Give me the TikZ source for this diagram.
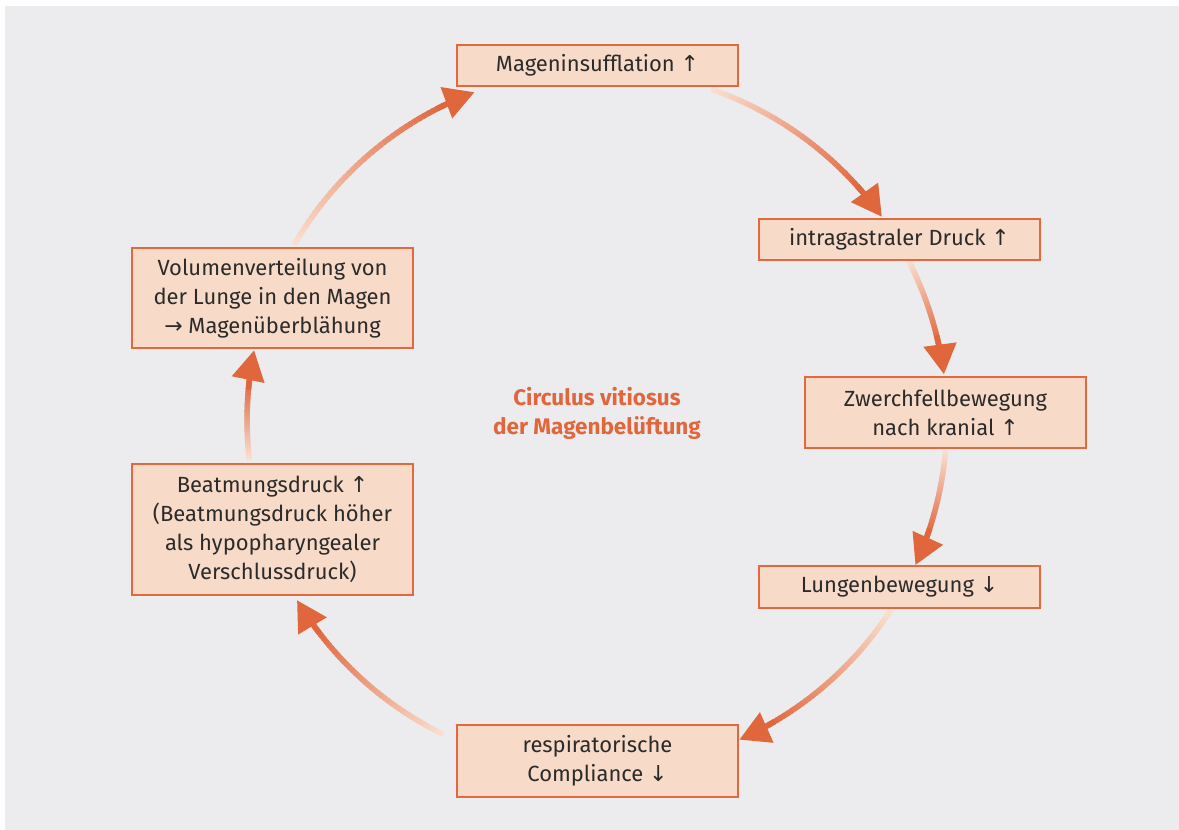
\documentclass[tikz,border=0pt]{standalone}
\usepackage{fontspec}
\setmainfont{Fira Sans}
\newfontfamily\arrowfont{DejaVu Sans}
\usetikzlibrary{arrows.meta}

\definecolor{panel}{HTML}{ECECEE}
\definecolor{boxfill}{HTML}{F8DAC8}
\definecolor{boxline}{HTML}{E2683E}
\definecolor{arrowend}{HTML}{E0663C}
\definecolor{arrowstart}{HTML}{FAE2D4}
\definecolor{txt}{HTML}{2B2B2B}

\newcommand{\arrup}{{\arrowfont\symbol{"2191}}}
\newcommand{\arrdown}{{\arrowfont\symbol{"2193}}}
\newcommand{\arrright}{{\arrowfont\symbol{"2192}}}

% arc around (c) from #1 to #2 (degrees), light -> orange, with head
\newcommand{\gradarc}[2]{%
  \pgfmathsetmacro{\gend}{#2-5*sign(#2-#1)}
  \pgfmathsetmacro{\ghs}{\gend-1.5*sign(#2-#1)}
  \foreach \i in {1,...,40}{
    \pgfmathsetmacro{\ga}{#1+(\gend-#1)*(\i-1)/40}
    \pgfmathsetmacro{\gb}{#1+(\gend-#1)*(\i+0.4)/40}
    \pgfmathsetmacro{\gpct}{100*\i/40}
    \draw[flow, draw=arrowend!\gpct!arrowstart] (c) ++(\ga:7cm) arc[start angle=\ga, end angle=\gb, radius=7cm];
  }
  \draw[flow, draw=arrowend, -{Triangle[length=0.6cm,width=0.64cm]}] (c) ++(\ghs:7cm) arc[start angle=\ghs, end angle=#2, radius=7cm];
}

\begin{document}
\begin{tikzpicture}[x=0.02cm, y=0.02cm]
        \tikzstyle{box}=[draw=boxline, fill=boxfill, line width=0.8pt, text=txt, align=center,
            minimum width=5.62cm, inner sep=0pt, font=\fontsize{12.5}{16.5}\selectfont]
        \tikzstyle{flow}=[line width=0.11cm]
        \tikzstyle{title}=[text=arrowend, align=center, font=\fontsize{12.8}{16.5}\selectfont\bfseries]
        \useasboundingbox (0,0) rectangle (1179,-830);
        \fill[panel] (5,-6) rectangle (1179,-830);
        \coordinate (c) at (597,-420);

        % arrows first, boxes on top
        \gradarc{71}{35.5}
        \gradarc{27}{7.5}
        \gradarc{-5}{-24.5}
        \gradarc{-33}{-66}
        \gradarc{244}{211}
        \gradarc{186.5}{168.5}
        \gradarc{150}{110.5}

        \node[box, minimum height=0.82cm] (insuff) at (597.5,-65.5) {Mageninsufflation \arrup};
        \node[box, minimum height=0.82cm] (druck) at (899.5,-239.5) {intragastraler Druck \arrup};
        \node[box, minimum height=1.42cm] (zwerch) at (945.5,-412.5) {Zwerchfellbewegung\\nach kranial \arrup};
        \node[box, minimum height=0.84cm] (lunge) at (899.5,-587) {Lungenbewegung \arrdown};
        \node[box, minimum height=1.44cm] (compl) at (597.5,-761) {respiratorische\\Compliance \arrdown};
        \node[box, minimum height=2.62cm] (beatm) at (272.5,-529.5) {Beatmungsdruck \arrup\\(Beatmungsdruck höher\\als hypopharyngealer\\Verschlussdruck)};
        \node[box, minimum height=2.0cm] (volumen) at (272.5,-298) {Volumenverteilung von\\der Lunge in den Magen\\\arrright{} Magenüberblähung};
        \node[title] (circ) at (597,-413) {Circulus vitiosus\\der Magenbelüftung};
    \end{tikzpicture}
\end{document}
